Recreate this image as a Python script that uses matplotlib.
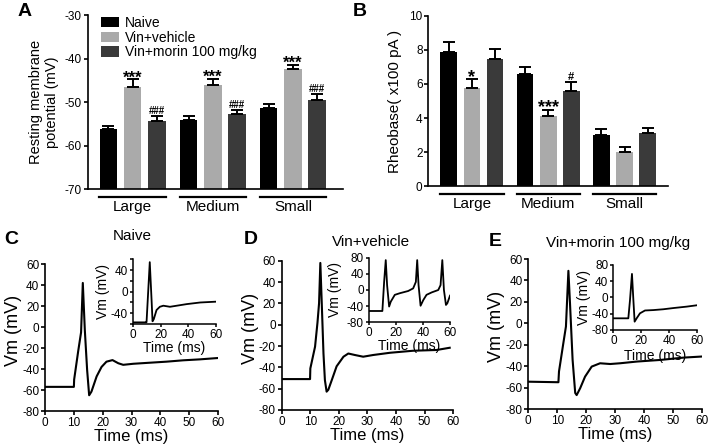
import numpy as np
import matplotlib.pyplot as plt
import matplotlib.transforms as mtransforms

plt.rcParams['font.family'] = ['Liberation Sans', 'DejaVu Sans']
plt.rcParams['axes.unicode_minus'] = False

groups = ['Large', 'Medium', 'Small']
treatments = ['Naive', 'Vin+vehicle', 'Vin+morin 100 mg/kg']
colors = ['#000000', '#aaaaaa', '#3a3a3a']

# panel A: resting membrane potential (mV), rows = treatment, cols = group
rmp_mean = [[-56.2, -54.1, -51.3], [-46.6, -46.1, -42.4], [-54.4, -52.8, -49.6]]
rmp_err = [[0.7, 0.8, 0.8], [1.8, 1.5, 1.0], [1.1, 0.9, 1.4]]
rmp_marks = [['', '', ''], ['***', '***', '***'], ['###', '###', '###']]

# panel B: rheobase (x100 pA)
rheo_mean = [[7.85, 6.56, 3.03], [5.79, 4.11, 2.02], [7.46, 5.60, 3.13]]
rheo_err = [[0.58, 0.43, 0.34], [0.47, 0.39, 0.29], [0.58, 0.50, 0.29]]
rheo_marks = [['', '', ''], ['*', '***', ''], ['', '#', '']]

# action potential traces (time ms, Vm mV)
naive_t = [0, 10, 10.1, 11.5, 12.5, 13.1, 13.8, 14.6, 15.3, 16.1, 17.9, 19.6, 21.3, 23.4,
           25.4, 27.1, 30.6, 36.3, 42.1, 47.9, 53.7, 60]
naive_v = [-57, -57, -50, -23, -5, 42, -3, -41, -65, -61.5, -47, -38, -33, -31.5,
           -34.5, -36, -35, -34, -33, -31.7, -30.8, -29.5]
naive_in_t = [0, 9.7, 9.8, 12.1, 13.4, 14.1, 15, 17, 19.4, 21.9, 26.7, 31.6, 38.9, 48.6, 60]
naive_in_v = [-57, -57, -55, 55, -15, -55, -51, -34, -28, -26, -28, -26, -23, -20, -18.5]

veh_t = [0, 9.9, 10, 11.65, 12.5, 13.05, 13.5, 14, 14.6, 15.1, 15.7, 16.3, 17.5, 19.2,
         21.6, 23.3, 25.6, 28.5, 32, 37.9, 46, 54.2, 58.8]
veh_v = [-51, -51, -41, -20.6, 2, 20, 58, 20, -27, -52, -62.8, -61, -52, -39,
         -30, -27, -28.4, -30, -28.4, -26.3, -24.4, -23.7, -21.6]
veh_in_t = [0, 9.9, 11.2, 12.4, 13.4, 14.9, 16.1, 19.1, 22.8, 29, 32.7, 34.7, 35.7, 36.7,
            38.2, 40.2, 42.6, 46.4, 51.3, 53, 54.3, 55.5, 57, 58, 60]
veh_in_v = [-52, -52, 20, 74, 12, -41, -29, -12, -8, -2.5, 4, 20, 74, 12,
            -39, -25, -12, -6, 0, 12, 74, 0, -37, -33, -14]

morin_t = [0, 10.4, 10.6, 12.1, 13, 13.85, 14.4, 15.3, 16.2, 16.7, 17.9, 19.6, 21.9, 24.8,
           28.3, 31.7, 37.5, 45.6, 53.7, 60]
morin_v = [-54.5, -55, -45, -18.6, -3, 49, 18.8, -34, -65, -67, -60.7, -49.8, -40.4, -37.3,
           -38, -37.3, -35.7, -34.2, -32, -31]
morin_in_t = [0, 10.7, 11.9, 13.3, 14.3, 15.2, 16.7, 19, 22.6, 28.6, 35.7, 42.9, 52.4, 60]
morin_in_v = [-51.3, -51.3, -6, 58, -6, -59.5, -51, -39, -32, -31, -29, -26, -22.5, -19]

fig = plt.figure(figsize=(7.08, 4.44), dpi=100)


def style(ax, lw=1.2, size=8.5):
    for s in ['top', 'right']:
        ax.spines[s].set_visible(False)
    for s in ['left', 'bottom']:
        ax.spines[s].set_linewidth(lw)
    ax.tick_params(direction='out', length=3, width=lw, labelsize=size, pad=1.2)


def bar_panel(ax, means, errs, marks, base, gap, star_size, hash_size):
    for i in range(3):
        x = np.arange(3) * gap + i
        m = np.array(means[i])
        ax.bar(x, m - base, bottom=base, width=0.72, color=colors[i], label=treatments[i])
        ax.errorbar(x, m, yerr=[np.zeros(3), errs[i]], fmt='none', ecolor='black',
                    elinewidth=1.4, capsize=4, capthick=1.4)
        for j in range(3):
            mk = marks[i][j]
            if not mk:
                continue
            if mk[0] == '#':
                ax.annotate(mk, (x[j], m[j] + errs[i][j]), xytext=(0, 0.5),
                            textcoords='offset points', ha='center', va='bottom',
                            fontsize=hash_size, fontweight='bold')
            else:
                ax.annotate(mk, (x[j], m[j] + errs[i][j]), xytext=(0, -4.5),
                            textcoords='offset points', ha='center', va='bottom',
                            fontsize=star_size, fontweight='bold')
    trans = mtransforms.blended_transform_factory(ax.transData, ax.transAxes)
    for g, name in enumerate(groups):
        ax.plot([g * gap - 0.37, g * gap + 2.37], [-0.045, -0.045], color='black', lw=1.6,
                transform=trans, clip_on=False)
        ax.text(g * gap + 1, -0.1, name, transform=trans, ha='center', va='center', fontsize=11)
    ax.set_xticks([])
    style(ax)


# ---- A ----
axA = fig.add_axes([0.124, 0.574, 0.360, 0.392])
bar_panel(axA, rmp_mean, rmp_err, rmp_marks, -70, 3.3, 12, 7)
axA.set_xlim(-0.85, 9.65)
axA.set_ylim(-70, -30)
axA.set_yticks([-70, -60, -50, -40, -30])
axA.set_ylabel('Resting membrane\npotential (mV)', fontsize=10.5, labelpad=4)
axA.legend(loc='upper left', bbox_to_anchor=(0.025, 1.035), frameon=False, fontsize=10,
           handlelength=1.3, handleheight=0.75, handletextpad=0.4, labelspacing=0.05,
           borderpad=0)

# ---- B ----
axB = fig.add_axes([0.605, 0.580, 0.338, 0.385])
bar_panel(axB, rheo_mean, rheo_err, rheo_marks, 0, 3.3, 13, 8)
axB.set_xlim(-0.88, 9.46)
axB.set_ylim(0, 10)
axB.set_yticks([0, 2, 4, 6, 8, 10])
axB.set_ylabel('Rheobase( x100 pA )', fontsize=11, labelpad=5)


# ---- C, D, E ----
def trace_panel(main_rect, inset_rect, t, v, ti, vi, inset_ylim, inset_ticks, inset_labels,
                ylab_x, xlab_y):
    ax = fig.add_axes(main_rect)
    ax.plot(t, v, color='black', lw=1.5)
    ax.set_xlim(0, 60)
    ax.set_ylim(-80, 60)
    ax.set_xticks(range(0, 61, 10))
    ax.set_yticks(range(-80, 61, 20))
    ax.set_xlabel('Time (ms)', fontsize=12)
    ax.set_ylabel('Vm (mV)', fontsize=13)
    ax.yaxis.set_label_coords(-0.135, 0.55)
    ax.xaxis.set_label_coords(0.5, -0.12)
    style(ax)
    ins = fig.add_axes(inset_rect)
    ins.plot(ti, vi, color='black', lw=1.3)
    ins.set_xlim(0, 60)
    ins.set_ylim(*inset_ylim)
    ins.set_xticks([0, 20, 40, 60])
    ins.set_yticks(inset_ticks)
    ins.set_yticklabels(inset_labels)
    ins.set_xlabel('Time (ms)', fontsize=10)
    ins.set_ylabel('Vm (mV)', fontsize=10)
    ins.yaxis.set_label_coords(ylab_x, 0.5)
    ins.xaxis.set_label_coords(0.5, xlab_y)
    style(ins, 1.1, 8.5)
    ins.tick_params(length=2.5)
    return ax


trace_panel([0.0636, 0.0743, 0.2444, 0.331], [0.1879, 0.2703, 0.1172, 0.1453],
            naive_t, naive_v, naive_in_t, naive_in_v, (-60, 60),
            [-60, -40, -20, 0, 20, 40, 60], ['', '-40', '', '0', '', '40', ''], -0.28, -0.27)
trace_panel([0.398, 0.0766, 0.242, 0.336], [0.5212, 0.2741, 0.1144, 0.1455],
            veh_t, veh_v, veh_in_t, veh_in_v, (-80, 80),
            [-80, -40, 0, 40, 80], ['-80', '-40', '0', '40', '80'], -0.33, -0.265)
trace_panel([0.7462, 0.0788, 0.2453, 0.3378], [0.8663, 0.2568, 0.1187, 0.1464],
            morin_t, morin_v, morin_in_t, morin_in_v, (-80, 80),
            [-80, -40, 0, 40, 80], ['-80', '-40', '0', '40', '80'], -0.27, -0.29)

# titles
fig.text(132 / 708, 1 - 236 / 444, 'Naive', ha='center', va='center', fontsize=11)
fig.text(371 / 708, 1 - 242 / 444, 'Vin+vehicle', ha='center', va='center', fontsize=11)
fig.text(618 / 708, 1 - 243 / 444, 'Vin+morin 100 mg/kg', ha='center', va='center', fontsize=11)

# panel letters
for lab, x, y in [('A', 25, 11), ('B', 360, 11), ('C', 11, 239), ('D', 251, 239), ('E', 495, 241)]:
    fig.text(x / 708, 1 - y / 444, lab, ha='center', va='center', fontsize=14, fontweight='bold')

fig.savefig('out.png', dpi=100)
